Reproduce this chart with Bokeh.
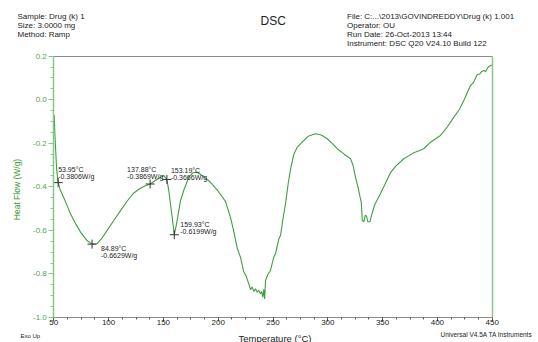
import math
from bokeh.plotting import figure
from bokeh.models import (ColumnDataSource, LinearAxis, FixedTicker, Range1d, Label,
                          PrintfTickFormatter)
from bokeh.embed import file_html
from bokeh.resources import INLINE
from bokeh.core.properties import value

# ---- data -------------------------------------------------------------
temperature = [50.4, 51.0, 51.6, 52.6, 53.95, 56.1, 60, 65.2, 70, 74.4, 80, 84.89,
               89.6, 94, 98.7, 105, 110.9, 117, 123, 128, 132, 137.88, 143, 148,
               150.4, 153.19, 154.9, 156.5, 158, 159.93, 162, 165.6, 169, 173.2,
               177, 180.8, 186, 193, 200, 206.7, 211.2, 214, 217.3, 220.3, 223.3,
               225.5, 227.9, 229.5, 231, 232.5, 234, 235.6, 237, 238.6, 239.6,
               240.7, 241.6, 242.4, 243.2, 245.5, 247.7, 250.7, 252.3, 255.3,
               256.9, 259, 261.4, 264, 266, 269, 272.1, 276.6, 282, 288.8, 294,
               299.5, 304, 308.6, 315, 320.7, 323, 325.3, 327.5, 329.8, 330.5,
               331.5, 333, 334.2, 335.4, 336.5, 338.5, 340.5, 343, 348, 351.1,
               357.2, 362, 369.3, 378, 387.6, 393.7, 402.8, 409, 415, 420, 424.1,
               427, 430.2, 433, 436.3, 438.5, 440.5, 442.3, 444, 446, 448.4, 450]
heat_flow = [-0.07, -0.16, -0.22, -0.32, -0.3806, -0.417, -0.46, -0.524, -0.57,
             -0.608, -0.645, -0.6629, -0.661, -0.635, -0.600, -0.552, -0.509,
             -0.465, -0.428, -0.41, -0.398, -0.3869, -0.37, -0.355, -0.348,
             -0.3666, -0.417, -0.48, -0.539, -0.6199, -0.57, -0.463, -0.41,
             -0.356, -0.335, -0.333, -0.35, -0.379, -0.42, -0.468, -0.54, -0.60,
             -0.68, -0.723, -0.79, -0.81, -0.845, -0.872, -0.86, -0.88, -0.868,
             -0.884, -0.875, -0.891, -0.88, -0.907, -0.87, -0.915, -0.83, -0.80,
             -0.784, -0.723, -0.707, -0.64, -0.623, -0.55, -0.478, -0.38, -0.32,
             -0.25, -0.218, -0.195, -0.168, -0.156, -0.162, -0.179, -0.2, -0.225,
             -0.25, -0.271, -0.3, -0.356, -0.4, -0.455, -0.47, -0.555, -0.56,
             -0.53, -0.535, -0.56, -0.56, -0.52, -0.48, -0.432, -0.40, -0.335,
             -0.305, -0.271, -0.245, -0.225, -0.195, -0.164, -0.125, -0.080,
             -0.045, -0.003, 0.03, 0.065, 0.08, 0.115, 0.118, 0.13, 0.134, 0.13,
             0.148, 0.157, 0.16]

peak_temps = [53.95, 84.89, 137.88, 153.19, 159.93]
peak_flows = [-0.3806, -0.6629, -0.3869, -0.3666, -0.6199]
peak_labels = ["53.95°C\n-0.3806W/g", "84.89°C\n-0.6629W/g",
               "137.88°C\n-0.3869W/g", "153.19°C\n-0.3666W/g",
               "159.93°C\n-0.6199W/g"]
label_dx = [0, 9, -23, 4, 6]
label_dy = [-17, 1, -18, -13, -14]

x_min, x_max = 50, 450
y_min, y_max = -1.0, 0.2
x_ticks = [50, 100, 150, 200, 250, 300, 350, 400, 450]
y_ticks = [-1.0, -0.8, -0.6, -0.4, -0.2, 0.0, 0.2]

header_left = ["Sample: Drug (k) 1", "Size:  3.0000 mg", "Method: Ramp"]
header_right = ["File: C:...\\2013\\GOVINDREDDY\\Drug (k) 1.001", "Operator: OU",
                "Run Date: 26-Oct-2013 13:44", "Instrument: DSC Q20 V24.10 Build 122"]
chart_title = "DSC"
x_label = "Temperature (°C)"
y_label = "Heat Flow (W/g)"
footer_left = "Exo Up"
footer_right = "Universal V4.5A TA Instruments"

FONT = "Liberation Sans"
GREEN = "#3f9f3f"
AXGREEN = "#86c886"

# ---- layout: canvas = frame; plot box placed in pixels ---------------
W, H = 538, 342
BOX_L, BOX_R, BOX_T, BOX_B = 53.3, 491.7, 55.7, 317.0
sx = (BOX_R - BOX_L) / (x_max - x_min)
sy = (BOX_B - BOX_T) / (y_max - y_min)
xr = Range1d(x_min - BOX_L / sx, x_max + (W - BOX_R) / sx)
yr = Range1d(y_min - (H - BOX_B) / sy, y_max + BOX_T / sy)

p = figure(width=W, height=H, x_range=xr, y_range=yr, output_backend="svg",
           toolbar_location=None, min_border=0)
p.outline_line_color = None
p.grid.grid_line_color = None

minor_x = [x_min + 12.5 * i for i in range(33)]
minor_y = [round(y_min + 0.05 * i, 2) for i in range(25)]

xa = p.xaxis[0]
xa.fixed_location = y_min
xa.bounds = (x_min, x_max)
xa.ticker = FixedTicker(ticks=x_ticks, minor_ticks=minor_x)
xa.axis_line_color = "#8c8c8c"
xa.major_tick_line_color = "#555555"
xa.minor_tick_line_color = "#555555"
xa.major_tick_out = 4
xa.major_tick_in = 0
xa.minor_tick_out = 2
xa.minor_tick_in = 0
xa.major_label_standoff = -2
xa.major_label_text_font = FONT
xa.major_label_text_font_size = "8px"
xa.major_label_text_color = "#222222"

ya = p.yaxis[0]
ya.fixed_location = x_min
ya.bounds = (y_min, y_max)
ya.ticker = FixedTicker(ticks=y_ticks, minor_ticks=minor_y)
ya.formatter = PrintfTickFormatter(format="%.1f")
ya.axis_line_color = AXGREEN
ya.axis_line_width = 1.5
ya.major_tick_line_color = AXGREEN
ya.minor_tick_line_color = AXGREEN
ya.major_tick_out = 5
ya.major_tick_in = 0
ya.minor_tick_out = 3
ya.minor_tick_in = 0
ya.major_label_standoff = 2
ya.major_label_text_font = FONT
ya.major_label_text_font_size = "8px"
ya.major_label_text_color = "#4aa84a"

ra = LinearAxis(fixed_location=x_max, bounds=(y_min, y_max),
                ticker=FixedTicker(ticks=[]), axis_line_color=AXGREEN,
                axis_line_width=1.5, major_tick_line_color=None,
                minor_tick_line_color=None, major_label_text_font_size="0px",
                major_label_standoff=0, axis_label_standoff=0)
p.add_layout(ra, "right")
ta = LinearAxis(fixed_location=y_max, bounds=(x_min, x_max),
                ticker=FixedTicker(ticks=[]), axis_line_color="#8c8c8c",
                major_tick_line_color=None, minor_tick_line_color=None,
                major_label_text_font_size="0px", major_label_standoff=0,
                axis_label_standoff=0)
p.add_layout(ta, "above")

src = ColumnDataSource(dict(t=temperature, h=heat_flow))
p.line("t", "h", source=src, line_color=GREEN, line_width=1.1)

psrc = ColumnDataSource(dict(t=peak_temps, h=peak_flows, lab=peak_labels,
                             dx=label_dx, dy=label_dy))
p.scatter("t", "h", source=psrc, marker="cross", size=9, line_color="#333333",
          line_width=1)
p.text("t", "h", text="lab", source=psrc, x_offset="dx", y_offset="dy",
       text_font=value(FONT), text_font_size="7px", text_color="#222222",
       text_baseline="top", text_align="left", text_line_height=1.05)


def note(x, y_top, s, size, align="left", color="#222222", angle=0.0):
    p.add_layout(Label(x=x, y=H - y_top, x_units="screen", y_units="screen",
                       text=s, text_font=FONT, text_font_size=size,
                       text_color=color, text_baseline="middle",
                       text_align=align, angle=angle))


for i, s in enumerate(header_left):
    note(17, 15.7 + 9 * i, s, "8px")
for i, s in enumerate(header_right):
    note(346.5, 15.7 + 9 * i, s, "8px")
note(260, 20, chart_title, "12px")
note(20, 335.5, footer_left, "6px")
note(440, 334, footer_right, "6.5px")
note(274.5, 337.5, x_label, "9.5px", align="center")
note(16, 189, y_label, "8.5px", align="center", color="#2f9a2f", angle=math.pi / 2)

open("out.html", "w").write(file_html(p, INLINE))
